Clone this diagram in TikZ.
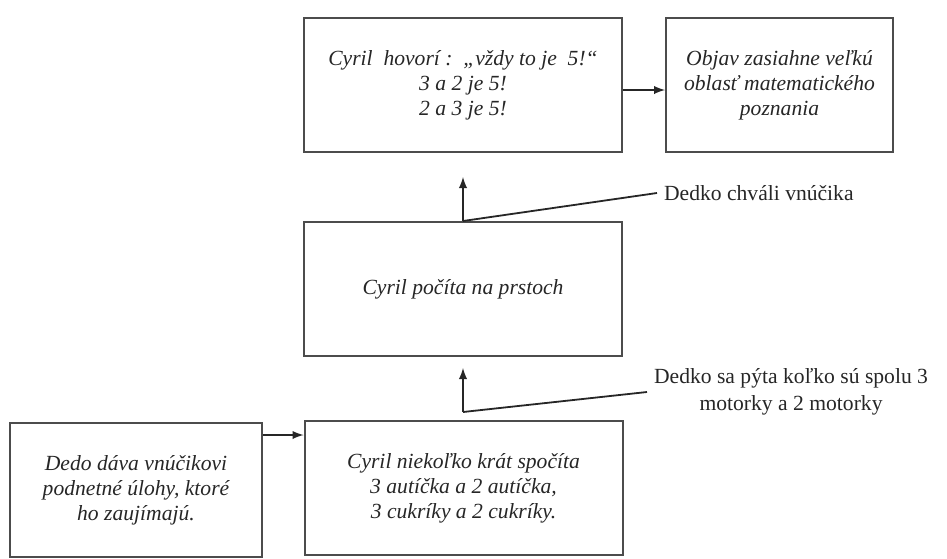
\documentclass[tikz,border=0pt]{standalone}
\usepackage{fontspec}
\setmainfont{Liberation Serif}
\usetikzlibrary{positioning}

\begin{document}
\begin{tikzpicture}[x=0.5pt, y=-0.5pt, >=latex]
            \tikzstyle{box}   = [draw=black!70, line width=1pt, minimum height=67pt, align=center, text=black!85, font=\fontsize{10.8}{12.5}\selectfont\itshape]
            \tikzstyle{label} = [align=center, text=black!85, font=\fontsize{10.8}{13.5}\selectfont]
            \tikzstyle{line}  = [draw=black!85, line width=0.9pt]

            \useasboundingbox (0,0) rectangle (947,558);

            \node[box, minimum width=159pt] (cyril1) at (463,85) {Cyril\ \ hovorí :\ \ „vždy to je\ \ 5!“\\ 3 a 2 je 5!\\ 2 a 3 je 5!};
            \node[box, minimum width=113.5pt] (objav) at (779.5,85) {Objav zasiahne veľkú\\ oblasť matematického\\ poznania};
            \node[box, minimum width=159pt] (cyril2) at (463,289) {Cyril počíta na prstoch};
            \node[box, minimum width=126pt] (dedo) at (136,490) {Dedo dáva vnúčikovi\\ podnetné úlohy, ktoré\\ ho zaujímajú.};
            \node[box, minimum width=159pt] (cyril3) at (463.5,488) {Cyril niekoľko krát spočíta\\ 3 autíčka a 2 autíčka,\\ 3 cukríky a 2 cukríky.};

            \node[label, anchor=west] (chvali) at (657,193) {Dedko chváli vnúčika};
            \node[label, anchor=west] (pyta) at (647,392) {Dedko sa pýta koľko sú spolu 3\\ motorky a 2 motorky};

            \coordinate (ohyb) at (463,412);

            \draw[line, ->] ([yshift=-2.5pt]cyril1.east) -- ([yshift=-2.5pt]objav.west);
            \draw[line, ->] ([yshift=27.5pt]dedo.east) -- ([yshift=27.5pt]dedo.east -| cyril3.west);

            \draw[line, ->] (cyril2.north) -- ([yshift=-12pt]cyril1.south);
            \draw[line] (cyril2.north) -- (chvali.west);

            \draw[line, ->] (ohyb) -- ([yshift=-5.5pt]cyril2.south);
            \draw[line] (ohyb) -- (pyta.west);
        \end{tikzpicture}
\end{document}
